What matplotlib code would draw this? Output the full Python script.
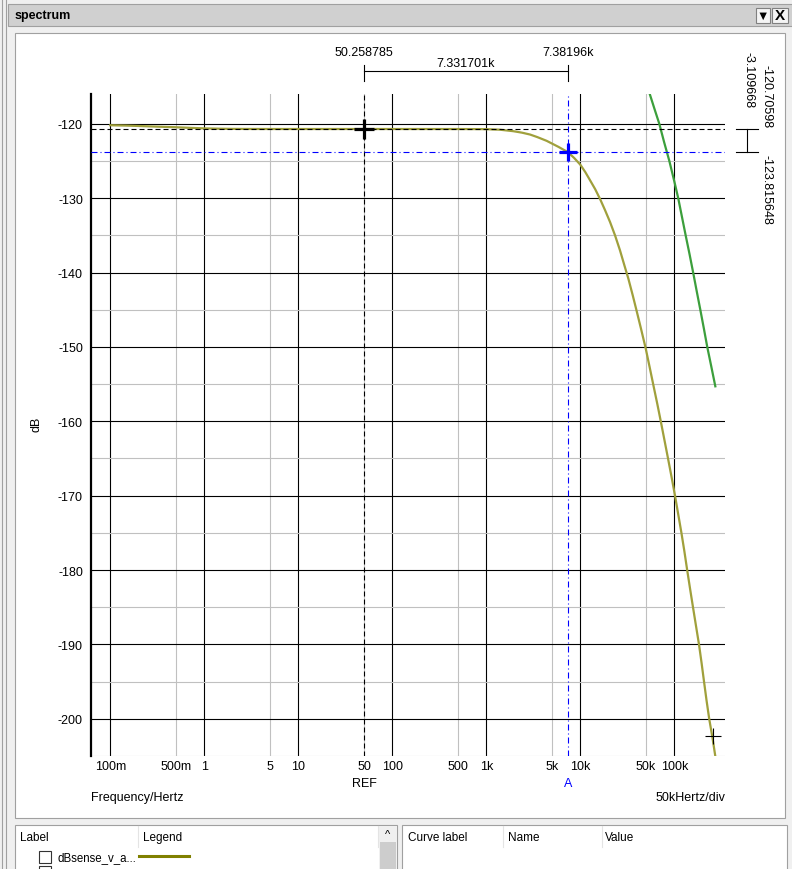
import matplotlib
matplotlib.use("Agg")
import matplotlib.pyplot as plt
import matplotlib.patches as patches
import matplotlib.transforms as mtrans
from matplotlib.lines import Line2D

plt.rcParams["font.family"] = ["Liberation Sans", "DejaVu Sans"]
plt.rcParams["font.size"] = 9

W, H = 792, 870

# dBsense_v_a... (olive curve)
sense_freq = [0.1, 0.15, 0.2, 0.3, 0.5, 0.7, 1, 1.5, 2, 3, 5, 10, 50, 100, 500,
              857, 1000, 1400, 1940, 2400, 2920, 3500, 4390, 5840, 7382, 8600,
              10000, 11300, 12700, 14400, 16200, 18300, 20700, 23400, 26400, 29700,
              32400, 36000, 39800, 44500, 49600, 54600, 60000, 66000, 72300, 79000,
              85700, 93500, 101700, 110000, 119000, 128000, 137000, 147000, 158000,
              170000, 183000, 195000, 207000, 220000, 235000, 255000, 275000]
sense_db = [-120.20, -120.25, -120.30, -120.38, -120.47, -120.55, -120.62, -120.67,
            -120.69, -120.70, -120.705, -120.706, -120.706, -120.706, -120.71,
            -120.72, -120.73, -120.8, -121.0, -121.2, -121.45, -121.8, -122.3,
            -123.1, -123.82, -124.6, -125.5, -126.5, -127.6, -128.8, -130.1,
            -131.6, -133.2, -135, -137, -139.2, -140.8, -143, -145.2, -147.7,
            -150.2, -152.7, -155.2, -157.7, -160.2, -162.7, -165, -167.5, -170,
            -172.5, -175, -177.5, -180, -182.5, -185, -187.5, -190, -192.5, -195,
            -197.5, -200, -202.6, -205.3]

# second curve (green)
green_freq = [55100, 61500, 69200, 78000, 88500, 100000, 110000, 120500, 132000,
              145000, 158600, 173000, 189000, 206000, 224000, 247000, 273000]
green_db = [-116.1, -118.0, -120, -122.5, -125, -127.75, -130, -132.5, -135,
            -137.5, -140, -142.5, -145, -147.5, -150, -152.6, -155.3]

major_freq = [0.1, 1, 10, 100, 1e3, 1e4, 1e5]
major_labels = ["100m", "1", "10", "100", "1k", "10k", "100k"]
minor_freq = [0.5, 5, 50, 500, 5e3, 5e4]
minor_labels = ["500m", "5", "50", "500", "5k", "50k"]
db_major = list(range(-120, -201, -10))
db_minor = list(range(-125, -206, -10))

ref_freq, ref_db = 50.258785, -120.70598
a_freq, a_db = 7381.96, -123.815648
end_marker = (257000, -202.3)


def fx(x):
    return x / W


def fy(y):
    return 1 - y / H


def rect(x0, y0, x1, y1, fc, ec="none", lw=0.8):
    fig.add_artist(patches.Rectangle((fx(x0), fy(y1)), (x1 - x0) / W, (y1 - y0) / H,
                                     transform=fig.transFigure, facecolor=fc,
                                     edgecolor=ec, linewidth=lw, zorder=-2))


def hline_px(x0, x1, y, color, lw=0.8):
    fig.add_artist(Line2D([fx(x0), fx(x1)], [fy(y), fy(y)], transform=fig.transFigure,
                          color=color, lw=lw, zorder=-1))


def vline_px(x, y0, y1, color, lw=0.8):
    fig.add_artist(Line2D([fx(x), fx(x)], [fy(y0), fy(y1)], transform=fig.transFigure,
                          color=color, lw=lw, zorder=-1))


fig = plt.figure(figsize=(W / 100, H / 100), dpi=100)
fig.patch.set_facecolor("#f0f0f0")

# window chrome
vline_px(2, 0, 870, "#a0a0a0")
vline_px(6, 0, 870, "#a0a0a0")
rect(8, 5, 793, 27, "#d0d0d0", "#a0a0a0")
fig.text(fx(15), fy(16), "spectrum", fontweight="bold", va="center", ha="left")
rect(756, 9, 770, 24, "#f4f4f4", "#808080")
rect(772, 9, 788, 24, "#f4f4f4", "#808080")
fig.text(fx(763), fy(16.5), "\u25bc", ha="center", va="center", fontsize=9)
fig.text(fx(780), fy(16.5), "X", ha="center", va="center", fontsize=11, fontweight="bold")
rect(15, 34, 785, 819, "white", "#a0a0a0")

# lower panels
rect(15, 826, 397, 875, "white", "#a0a0a0")
rect(402, 826, 787, 875, "white", "#a0a0a0")
for x, s in [(20, "Label"), (143, "Legend"), (408, "Curve label"), (508, "Name"), (605, "Value")]:
    fig.text(fx(x), fy(838), s, ha="left", va="center", fontsize=8.5)
for x in [138, 378, 503, 602]:
    vline_px(x, 827, 848, "#e4e4e4")
rect(379, 827, 397, 871, "#f0f0f0")
rect(380, 843, 396, 871, "#cdcdcd")
fig.text(fx(388), fy(835), "^", ha="center", va="center", fontsize=8)
rect(39, 852, 51, 864, "white", "#333333")
rect(39, 867, 51, 879, "white", "#333333")
fig.text(fx(58), fy(858), "dBsense_v_a...", ha="left", va="center", fontsize=8.3)
hline_px(139, 189, 857, "#808000", lw=2.2)

# plot area
ax = fig.add_axes([fx(91), fy(757), (725 - 91) / W, (757 - 95) / H])
ax.set_facecolor("white")
ax.set_xscale("log")
ax.set_xticks(major_freq, major_labels)
ax.set_xticks(minor_freq, minor_labels, minor=True)
ax.set_yticks(db_major, [str(v) for v in db_major])
ax.set_yticks(db_minor, minor=True)
ax.tick_params(axis="x", which="both", length=0, pad=3, labelsize=9)
ax.tick_params(axis="y", which="both", length=0, pad=5.8, labelsize=9)
ax.grid(which="major", color="black", lw=0.8)
ax.grid(which="minor", color="#c0c0c0", lw=0.8)
ax.set_axisbelow(True)
for side in ["top", "right", "bottom"]:
    ax.spines[side].set_visible(False)
ax.spines["left"].set_linewidth(1.6)

ax.plot(sense_freq, sense_db, color="#a0a03c", lw=1.6, zorder=3)
ax.plot(green_freq, green_db, color="#3c9f3c", lw=1.6, zorder=3)

# cursors
ax.axvline(ref_freq, color="black", lw=0.8, ls=(0, (4.5, 2.7)), zorder=4)
ax.axhline(ref_db, color="black", lw=0.8, ls=(0, (4.5, 2.7)), zorder=4)
ax.axvline(a_freq, color="#0000ff", lw=0.8, ls=(0, (5.4, 2.7, 0.9, 2.7)), zorder=4)
ax.axhline(a_db, color="#0000ff", lw=0.8, ls=(0, (5.4, 2.7, 0.9, 2.7)), zorder=4)
ax.plot([ref_freq], [ref_db], marker="+", ms=14, mew=2.3, color="black", zorder=5)
ax.plot([a_freq], [a_db], marker="+", ms=13, mew=2.3, color="#0000ff", zorder=5)
ax.plot([end_marker[0]], [end_marker[1]], marker="+", ms=11, mew=0.8, color="black", zorder=5)

trans_xf = mtrans.blended_transform_factory(ax.transData, fig.transFigure)
trans_fy = mtrans.blended_transform_factory(fig.transFigure, ax.transData)

ax.text(ref_freq, fy(784), "REF", transform=trans_xf, ha="center", va="center")
ax.text(a_freq, fy(784), "A", transform=trans_xf, ha="center", va="center", color="#0000ff")

# frequency difference bracket on top
ax.text(ref_freq, fy(53), f"{ref_freq:.6f}", transform=trans_xf, ha="center", va="center")
ax.text(a_freq, fy(53), f"{a_freq / 1e3:.5f}k", transform=trans_xf, ha="center", va="center")
mid_freq = (ref_freq * a_freq) ** 0.5
ax.text(mid_freq, fy(64), f"{(a_freq - ref_freq) / 1e3:.6f}k", transform=trans_xf,
        ha="center", va="center")
ax.plot([ref_freq, a_freq], [fy(72), fy(72)], transform=trans_xf, color="black", lw=0.8, clip_on=False)
for f in [ref_freq, a_freq]:
    ax.plot([f, f], [fy(66), fy(82)], transform=trans_xf, color="black", lw=0.8, clip_on=False)

# dB difference bracket on the right
ax.plot([fx(747), fx(747)], [ref_db, a_db], transform=trans_fy, color="black", lw=0.8, clip_on=False)
for v in [ref_db, a_db]:
    ax.plot([fx(736), fx(758)], [v, v], transform=trans_fy, color="black", lw=0.8, clip_on=False)
fig.text(fx(767), fy(128), f"{ref_db:.5f}", rotation=-90, ha="center", va="bottom")
fig.text(fx(748), fy(52), f"{a_db - ref_db:.6f}", rotation=-90, ha="center", va="top")
fig.text(fx(767), fy(155), f"{a_db:.6f}", rotation=-90, ha="center", va="top")

fig.text(fx(37), fy(424), "dB", rotation=90, ha="center", va="center")
fig.text(fx(91), fy(798), "Frequency/Hertz", ha="left", va="center")
fig.text(fx(725), fy(798), "50kHertz/div", ha="right", va="center")

ax.set_xlim(0.0624, 346000)
ax.set_ylim(-205, -116)

fig.savefig("out.png", dpi=100, facecolor=fig.get_facecolor())
